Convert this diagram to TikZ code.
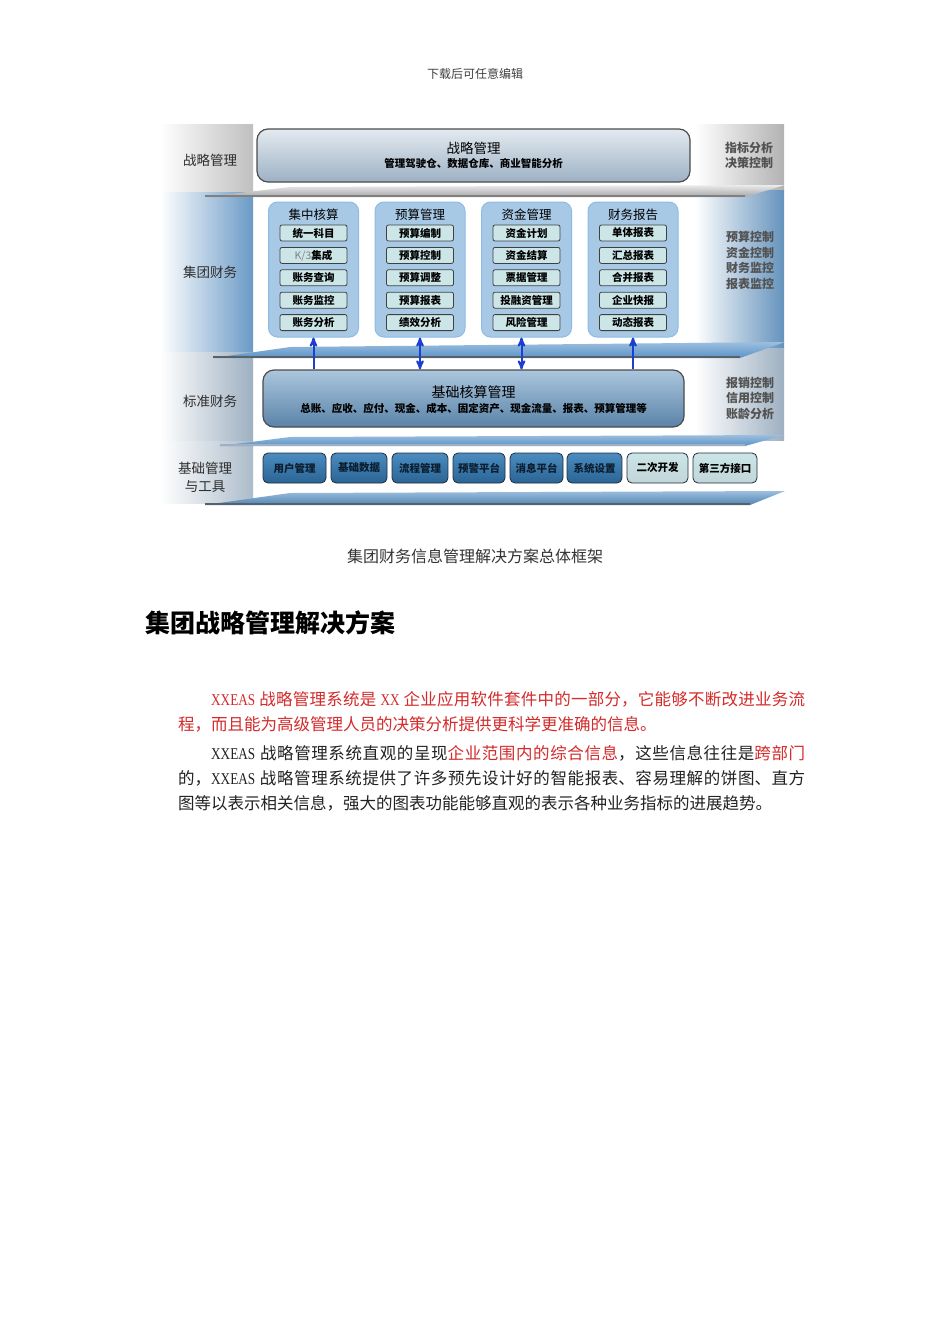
\documentclass[tikz,border=0pt]{standalone}
\usepackage{fontspec}
\usepackage{graphicx}
\setmainfont{Liberation Serif}
\newfontfamily\cjk{Noto Sans CJK SC}
\usetikzlibrary{arrows}
\XeTeXlinebreaklocale "zh"
\XeTeXlinebreakskip=0pt plus 1pt

\definecolor{txtred}{HTML}{D42A2A}
\definecolor{txtblack}{HTML}{222222}
\definecolor{grpfill}{HTML}{A8C9E5}
\definecolor{grpline}{HTML}{8DBBE6}
\definecolor{itemfill}{HTML}{CCE5E7}
\definecolor{btntop}{HTML}{4B8CC0}
\definecolor{btnbot}{HTML}{2A6494}
\definecolor{btnline}{HTML}{1E2E3E}
\definecolor{btntext}{HTML}{0B1E30}
\definecolor{arrblue}{HTML}{1C3FCF}
\definecolor{colblue}{HTML}{6A9AC6}
\definecolor{colgrey}{HTML}{9EB0C1}
\definecolor{shelfblue}{HTML}{5A93C8}
\definecolor{topbartop}{HTML}{E3EAF0}
\definecolor{topbarbot}{HTML}{9DB1C4}
\definecolor{barttop}{HTML}{ABC6DD}
\definecolor{barbot}{HTML}{5A83A8}

\newcommand{\lat}[1]{{\rmfamily\scalebox{0.8}[1]{#1}}}
\newcommand{\kthree}{{\mdseries\color{black!50}K/3}}
\newcommand{\fullline}[2]{\parbox{#1}{\noindent\parfillskip=0pt #2}}

\begin{document}
\begin{tikzpicture}[x=1pt,y=-1pt,>=stealth']
\tikzset{
  lbl/.style={font=\cjk\fontsize{13.5}{18}\selectfont, text=black!82, align=center},
  rlbl/.style={font=\cjk\bfseries\fontsize{12}{15.5}\selectfont, text=black!68, align=center},
  grp/.style={draw=grpline, fill=grpfill, line width=1pt, rounded corners=9pt,
    minimum width=90pt, minimum height=135pt},
  grptitle/.style={font=\cjk\fontsize{12.5}{14}\selectfont, inner sep=0pt},
  item/.style={draw=black!75, fill=itemfill, line width=0.8pt, rounded corners=2pt,
    minimum width=67pt, minimum height=16pt, inner sep=0pt,
    font=\cjk\bfseries\fontsize{10.5}{12}\selectfont},
  bigbar/.style={draw=black!70, line width=1.2pt, rounded corners=11pt, inner sep=0pt},
  btn/.style={draw=btnline, top color=btntop, bottom color=btnbot, line width=0.8pt,
    rounded corners=5pt, minimum height=30pt, inner sep=0pt,
    font=\cjk\bfseries\fontsize{10.5}{12}\selectfont, text=btntext},
  btnlt/.style={btn, top color=itemfill, bottom color=itemfill!85!gray, text=black},
  uparr/.style={->, draw=arrblue, line width=2pt},
  dblarr/.style={<->, draw=arrblue, line width=2pt},
  txt/.style={anchor=west, inner sep=0pt, font=\cjk\fontsize{16.5}{20}\selectfont, text=txtblack},
}
\useasboundingbox (0,0) rectangle (950,1344);
\fill[white] (0,0) rectangle (950,1344);

% side columns
\shade[left color=white, right color=black!25] (160,124) rectangle (253,192);
\shade[left color=white, right color=colblue] (160,192) rectangle (253,352);
\shade[left color=white, right color=colgrey] (160,352) rectangle (253,441);
\shade[left color=white, right color=colgrey!85] (160,441) rectangle (253,503);
\shade[left color=white, right color=black!30] (695,124) rectangle (784,190);
\shade[left color=white, right color=colblue!95!black] (695,190) rectangle (784,348);
\shade[left color=white, right color=colgrey] (695,348) rectangle (784,440);

% shelves
\shade[top color=black!8, bottom color=black!35] (205,197) -- (290,187) -- (785,185) -- (745,197) -- cycle;
\draw[black!50, line width=2.5pt] (205,196) -- (745,196);
\shade[top color=shelfblue!60, bottom color=shelfblue] (213,358) -- (290,347) -- (785,342) -- (740,358) -- cycle;
\draw[black!45!colgrey, line width=2.5pt] (213,357) -- (740,357);
\shade[top color=shelfblue!60, bottom color=shelfblue] (220,446) -- (290,437) -- (785,435) -- (745,446) -- cycle;
\draw[colgrey, line width=2.5pt] (220,445) -- (745,445);
\shade[top color=shelfblue!60, bottom color=shelfblue!90!black] (205,505) -- (290,493) -- (785,491) -- (750,505) -- cycle;
\draw[black!45!colgrey, line width=2.5pt] (205,504) -- (750,504);

% layer labels
\node[lbl] (l1) at (210,160) {战略管理};
\node[lbl] (l2) at (210,272) {集团财务};
\node[lbl] (l3) at (210,401) {标准财务};
\node[lbl] (l4) at (205,477) {基础管理\\与工具};
\node[rlbl] (r1) at (749,155.5) {指标分析\\决策控制};
\node[rlbl] (r2) at (750,260.5) {预算控制\\资金控制\\财务监控\\报表监控};
\node[rlbl] (r3) at (750,398) {报销控制\\信用控制\\账龄分析};

% top bar
\node[bigbar, top color=topbartop, bottom color=topbarbot,
  minimum width=433pt, minimum height=53pt] (zlgl) at (473.5,155.5) {};
\node[font=\cjk\fontsize{13.5}{15}\selectfont, inner sep=0pt] (zlgl-t) at ([yshift=7.5pt]zlgl.center) {战略管理};
\node[font=\cjk\bfseries\fontsize{10.5}{12}\selectfont, inner sep=0pt] (zlgl-s) at ([yshift=-7.5pt]zlgl.center) {管理驾驶仓、数据仓库、商业智能分析};

% group finance
\foreach \n/\x/\t/\items in {
  jzhs/313.5/集中核算/{统一科目,\kthree 集成,账务查询,账务监控,账务分析},
  ysgl/420/预算管理/{预算编制,预算控制,预算调整,预算报表,绩效分析},
  zjgl/526.5/资金管理/{资金计划,资金结算,票据管理,投融资管理,风险管理},
  cwbg/633/财务报告/{单体报表,汇总报表,合并报表,企业快报,动态报表}}
{
  \node[grp] (\n) at (\x,269.5) {};
  \node[grptitle] (\n-t) at (\x,215) {\t};
  \foreach \s [count=\i] in \items
    \node[item] (\n-\i) at (\x,{210.6+22.4*\i}) {\s};
}

% basic accounting bar
\node[bigbar, top color=barttop, bottom color=barbot,
  minimum width=421pt, minimum height=57pt] (jchs) at (473.5,398.5) {};
\node[font=\cjk\fontsize{14}{16}\selectfont, inner sep=0pt] (jchs-t) at ([yshift=6.5pt]jchs.center) {基础核算管理};
\node[font=\cjk\bfseries\fontsize{10.5}{12}\selectfont, inner sep=0pt] (jchs-s) at ([yshift=-9.5pt]jchs.center) {总账、应收、应付、现金、成本、固定资产、现金流量、报表、预算管理等};

\coordinate (zjgl-a) at ([xshift=-5pt]zjgl.south);
\draw[uparr] (jzhs.south |- jchs.north) -- (jzhs.south);
\draw[dblarr] (ysgl.south |- jchs.north) -- (ysgl.south);
\draw[dblarr] (zjgl-a |- jchs.north) -- (zjgl-a);
\draw[uparr] (cwbg.south |- jchs.north) -- (cwbg.south);

% tools row
\foreach \n/\x/\w/\t in {yhgl/294.5/63/用户管理, jcsj/359/56/基础数据, lcgl/420/56/流程管理,
  yjpt/479/52/预警平台, xxpt/536.5/53/消息平台, xtsz/594.5/55/系统设置}
  \node[btn, minimum width=\w] (\n) at (\x,468) {\t};
\node[btnlt, minimum width=61] (eckf) at (657.5,468) {二次开发};
\node[btnlt, minimum width=64] (dsfjk) at (725,468) {第三方接口};

% page text
\node[font=\cjk\fontsize{12}{14}\selectfont, text=black!75] (hdr) at (475,74) {下载后可任意编辑};
\node[font=\cjk\fontsize{16}{18}\selectfont, text=black!80] (cap) at (475,556) {集团财务信息管理解决方案总体框架};
\node[anchor=west, inner sep=0pt, font=\cjk\bfseries\fontsize{25}{30}\selectfont] (hd) at (145,623) {集团战略管理解决方案};

\node[txt, text=txtred] (p1a) at (211,699) {\fullline{594pt}{\lat{XXEAS} 战略管理系统是 \lat{XX} 企业应用软件套件中的一部分，它能够不断改进业务流}};
\node[txt, text=txtred] (p1b) at (178,724) {程，而且能为高级管理人员的决策分析提供更科学更准确的信息。};
\node[txt] (p2a) at (211,753) {\fullline{594pt}{\lat{XXEAS} 战略管理系统直观的呈现\textcolor{txtred}{企业范围内的综合信息}，这些信息往往是\textcolor{txtred}{跨部门}}};
\node[txt] (p2b) at (178,778) {\fullline{627pt}{的，\lat{XXEAS} 战略管理系统提供了许多预先设计好的智能报表、容易理解的饼图、直方}};
\node[txt] (p2c) at (178,803) {图等以表示相关信息，强大的图表功能能够直观的表示各种业务指标的进展趋势。};
\end{tikzpicture}
\end{document}
